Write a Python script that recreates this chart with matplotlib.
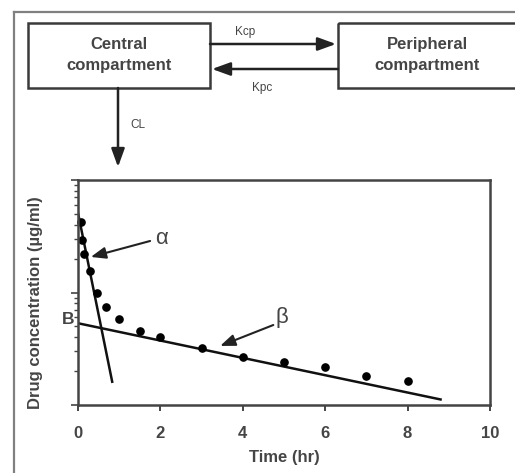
import matplotlib as mpl
from matplotlib import pyplot as plt
from matplotlib.patches import Rectangle
import numpy as np

plt.rcParams['font.family'] = ['Liberation Sans', 'DejaVu Sans']

time_hr = [0.08, 0.1, 0.15, 0.3, 0.45, 0.67, 1.0, 1.5, 2.0, 3.0, 4.0, 5.0, 6.0, 7.0, 8.0]
conc = [42, 29, 22, 15.6, 10, 7.5, 5.8, 4.55, 4.05, 3.23, 2.69, 2.43, 2.16, 1.81, 1.63]

# Fitted phases
alpha_t = [0, 0.83]
alpha_c = [51, 1.61]
beta_t = [0, 8.8]
beta_c = [5.33, 1.12]

xticks = [0, 2, 4, 6, 8, 10]

W, H = 515, 473
TXT = '#454545'
fig = plt.figure(figsize=(W / 100, H / 100), dpi=100)

# --- compartment diagram (pixel coords overlay) ---
ov = fig.add_axes([0, 0, 1, 1])
ov.set_xlim(0, W)
ov.set_ylim(H, 0)
ov.axis('off')

# outer frame
ov.plot([14, 14], [H, 12], color='#808080', lw=1.6)
ov.plot([14, W], [12, 12], color='#808080', lw=1.6)

box_kw = dict(fill=False, edgecolor='#3a3a3a', lw=1.8)
ov.add_patch(Rectangle((28, 23), 182, 65, **box_kw))
ov.add_patch(Rectangle((338, 23), 200, 65, **box_kw))
ov.text(119, 55, "Central\ncompartment", ha='center', va='center', fontsize=12, fontweight='bold',
        color=TXT, linespacing=1.55)
ov.text(427, 55, "Peripheral\ncompartment", ha='center', va='center', fontsize=12, fontweight='bold',
        color=TXT, linespacing=1.55)

arr = dict(arrowstyle='-|>,head_length=1.1,head_width=0.4', color='#222222', lw=1.8,
           shrinkA=0, shrinkB=0)
ov.annotate("", xy=(336, 44), xytext=(210, 44), arrowprops=arr)
ov.annotate("", xy=(212, 69), xytext=(338, 69), arrowprops=arr)
ov.annotate("", xy=(118, 167), xytext=(118, 88), arrowprops=arr)
ov.text(245, 32, "Kcp", ha='center', va='center', fontsize=8.5, color=TXT)
ov.text(262, 88, "Kpc", ha='center', va='center', fontsize=8.5, color=TXT)
ov.text(138, 125, "CL", ha='center', va='center', fontsize=8.5, color=TXT)

# --- concentration-time plot ---
ax = fig.add_axes([78 / W, 68 / H, 412 / W, 225 / H])
ax.set_yscale('log')
ax.set_xlim(0, 10)
ax.set_ylim(1, 100)

ax.plot(alpha_t, alpha_c, color='#111111', lw=1.8)
ax.plot(beta_t, beta_c, color='#111111', lw=1.8)
ax.plot(time_hr, conc, 'o', color='black', markersize=5.2, clip_on=False)

ax.set_xticks(xticks)
ax.set_xticklabels([str(t) for t in xticks], fontweight='bold')
ax.yaxis.set_major_formatter(mpl.ticker.NullFormatter())
ax.yaxis.set_minor_formatter(mpl.ticker.NullFormatter())
ax.tick_params(axis='x', direction='out', length=4, width=1.4, pad=11, labelsize=12, colors=TXT)
ax.tick_params(axis='y', which='major', direction='out', length=5, width=1.2, colors='#444444')
ax.tick_params(axis='y', which='minor', direction='out', length=3, width=1.0, colors='#444444')
for s in ax.spines.values():
    s.set_linewidth(1.8)
    s.set_color('#444444')

ax.set_xlabel("Time (hr)", fontsize=12, fontweight='bold', color=TXT)
ax.xaxis.set_label_coords(0.5, -0.2)
ax.set_ylabel("Drug concentration (\u00b5g/ml)", fontsize=12, fontweight='bold', color=TXT)
ax.yaxis.set_label_coords(-0.085, 0.455)

ax.text(-0.01, 5.7, "B", transform=mpl.transforms.blended_transform_factory(ax.transAxes, ax.transData),
        ha='right', va='center', fontsize=12.5, fontweight='bold', color=TXT)

ann = dict(arrowstyle='-|>,head_length=0.9,head_width=0.35', color='#222222', lw=1.5,
           shrinkA=0, shrinkB=0)
ax.annotate("", xy=(0.31, 20.7), xytext=(1.75, 28.7), arrowprops=ann)
ax.text(2.03, 30.5, "\u03b1", ha='center', va='center', fontsize=16, color=TXT)
ax.annotate("", xy=(3.45, 3.35), xytext=(4.74, 5.14), arrowprops=ann)
ax.text(4.94, 5.95, "\u03b2", ha='center', va='center', fontsize=16, color=TXT)

fig.savefig("out.png", dpi=100)
